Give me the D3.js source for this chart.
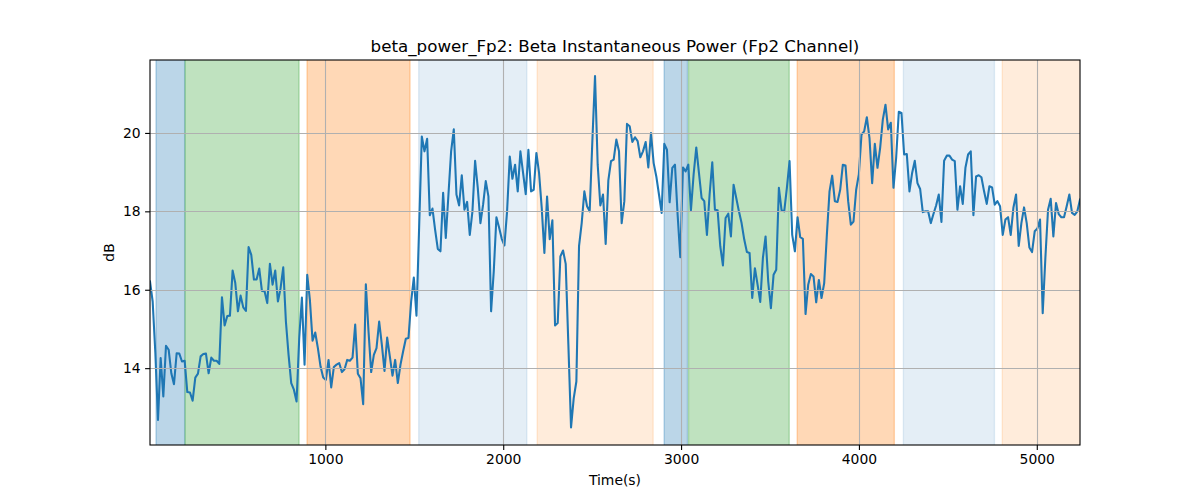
<!DOCTYPE html>
<html>
<head>
<meta charset="utf-8">
<script src="https://cdn.jsdelivr.net/npm/d3@7"></script>
<style>
  html, body { margin: 0; padding: 0; background: #fff; }
  svg { display: block; font-family: "DejaVu Sans", sans-serif; }
</style>
</head>
<body>
<svg id="chart" width="1200" height="500"></svg>
<script>
// ---- data ----
const chartTitle = "beta_power_Fp2: Beta Instantaneous Power (Fp2 Channel)";
const xLabel = "Time(s)";
const yLabel = "dB";
const sampleStart = 14;       // s, first sample
const samplePeriod = 14.983;  // s between samples
const betaPower = [
16.21,15.70,14.4,12.68,14.26,13.28,14.57,14.47,13.87,13.59,
14.38,14.37,14.17,14.19,13.39,13.38,13.17,13.76,13.86,14.30,
14.36,14.37,13.87,14.27,14.19,14.19,14.11,15.81,15.09,15.33,
15.34,16.49,16.17,15.45,15.85,15.55,15.46,17.09,16.89,16.26,
16.26,16.54,15.97,15.96,15.66,16.66,16.13,16.49,15.70,16.04,
16.57,15.19,14.34,13.62,13.45,13.15,14.77,15.80,14.09,16.38,
15.74,14.70,14.91,14.51,14.04,13.76,13.70,14.21,13.51,14.03,
14.09,14.13,13.90,13.97,14.21,14.19,14.27,15.11,13.86,13.74,
13.08,16.14,14.94,13.90,14.34,14.51,15.19,14.60,13.93,14.78,
14.30,13.81,14.21,13.62,14.09,14.43,14.75,14.77,15.70,16.31,
15.34,17.6,19.91,19.53,19.85,17.90,18.07,17.53,17.04,16.98,
18.47,17.32,18.43,19.53,20.09,18.43,18.15,18.92,18.04,18.24,
17.40,18.00,19.29,18.60,17.70,18.17,18.77,18.38,15.45,16.47,
17.85,17.59,17.30,17.13,18.00,19.40,18.83,19.19,18.51,19.53,
18.98,18.44,19.57,18.51,18.55,19.49,18.98,18.09,16.94,18.38,
17.29,17.77,15.09,15.15,16.85,17.00,16.66,14.60,12.49,13.23,
13.66,17.11,17.70,18.51,18.13,18.00,19.79,21.45,19.19,18.15,
18.43,17.17,18.79,19.28,19.32,19.83,19.53,17.70,18.26,20.23,
20.17,19.77,19.89,19.79,19.38,19.53,19.77,19.12,20.00,19.23,
18.89,18.43,17.96,19.72,19.57,18.23,19.11,19.19,17.91,16.83,
19.12,19.02,19.19,18.03,18.94,19.63,18.98,18.34,18.26,17.40,
18.43,19.25,18.04,18.03,17.11,16.62,17.83,17.94,17.36,18.68,
18.34,18.00,17.70,17.28,16.96,16.94,15.79,16.55,16.13,15.69,
16.81,17.36,16.21,15.53,16.38,16.51,18.60,18.03,18.00,18.60,
19.28,17.40,16.98,17.85,17.34,17.30,15.38,16.13,16.40,16.34,
15.68,16.25,15.79,16.17,17.40,18.51,18.91,18.26,18.24,18.55,
19.19,19.17,18.26,17.66,17.74,18.55,18.94,19.96,20.04,20.40,
19.87,18.72,19.72,19.11,19.62,20.34,20.72,20.09,20.26,18.60,
19.36,20.54,20.51,19.45,19.46,18.51,18.98,19.29,18.72,18.57,
17.98,18.00,18.00,17.70,17.93,18.15,18.43,17.73,19.29,19.42,
19.42,19.32,19.28,18.04,18.64,18.19,19.11,19.45,19.53,17.90,
18.89,18.92,18.87,18.51,18.19,18.64,18.61,18.17,18.26,18.13,
17.40,17.79,17.85,17.40,18.09,18.43,17.12,17.70,18.10,17.70,
17.08,16.96,17.49,17.56,17.79,15.40,16.81,18.04,18.32,17.36,
18.21,17.93,17.85,17.85,18.13,18.43,17.96,17.91,18.0,18.3
];

// shaded intervals (seconds)
const spanStart = [48, 211, 897, 1525, 2191, 2905, 3042, 3653, 4250, 4806];
const spanEnd   = [209, 852, 1476, 2133, 2843, 3036, 3608, 4199, 4762, 5400];
const spanColor = ["#1f77b4", "#2ca02c", "#ff7f0e", "#1f77b4", "#ff7f0e",
                   "#1f77b4", "#2ca02c", "#ff7f0e", "#1f77b4", "#ff7f0e"];
const spanAlpha = [0.3, 0.3, 0.3, 0.12, 0.15, 0.3, 0.3, 0.3, 0.12, 0.15];

const xTicks = [1000, 2000, 3000, 4000, 5000];
const yTicks = [14, 16, 18, 20];
const xDomain = [14, 5243];
const yDomain = [12.04, 21.86];

// ---- layout ----
const W = 1200, H = 500;
const m = { left: 150, right: 1080, top: 60, bottom: 445 };

const svg = d3.select("#chart");
const x = d3.scaleLinear().domain(xDomain).range([m.left, m.right]);
const y = d3.scaleLinear().domain(yDomain).range([m.bottom, m.top]);

svg.append("defs").append("clipPath").attr("id", "plotclip")
  .append("rect").attr("x", m.left).attr("y", m.top)
  .attr("width", m.right - m.left).attr("height", m.bottom - m.top);

const plot = svg.append("g").attr("clip-path", "url(#plotclip)");

// spans
const spans = spanStart.map((s, i) => ({ s, e: spanEnd[i], c: spanColor[i], a: spanAlpha[i] }));
plot.selectAll("rect.span").data(spans).enter().append("rect")
  .attr("class", "span")
  .attr("x", d => x(d.s))
  .attr("width", d => x(d.e) - x(d.s))
  .attr("y", m.top - 5)
  .attr("height", m.bottom - m.top + 10)
  .attr("fill", d => d.c).attr("fill-opacity", d => d.a)
  .attr("stroke", d => d.c).attr("stroke-opacity", d => d.a)
  .attr("stroke-width", 1.4);

// grid
const grid = svg.append("g");
grid.selectAll("line.gx").data(xTicks).enter().append("line")
  .attr("x1", d => Math.round(x(d)) + 0.5).attr("x2", d => Math.round(x(d)) + 0.5)
  .attr("y1", m.top).attr("y2", m.bottom)
  .attr("stroke", "#b0b0b0").attr("stroke-width", 1.1);
grid.selectAll("line.gy").data(yTicks).enter().append("line")
  .attr("y1", d => Math.round(y(d)) + 0.5).attr("y2", d => Math.round(y(d)) + 0.5)
  .attr("x1", m.left).attr("x2", m.right)
  .attr("stroke", "#b0b0b0").attr("stroke-width", 1.1);

// line
const pts = betaPower.map((v, i) => ({ t: sampleStart + i * samplePeriod, v }));
const line = d3.line().x(d => x(d.t)).y(d => y(d.v));
plot.append("path").datum(pts)
  .attr("d", line)
  .attr("fill", "none")
  .attr("stroke", "#1f77b4")
  .attr("stroke-width", 2.08)
  .attr("stroke-linejoin", "round")
  .attr("stroke-linecap", "square");

// axes
const xAxis = d3.axisBottom(x).tickValues(xTicks).tickFormat(d3.format("d"))
  .tickSize(4.9).tickPadding(4.5);
const yAxis = d3.axisLeft(y).tickValues(yTicks).tickFormat(d3.format("d"))
  .tickSize(4.9).tickPadding(4.5);

const gx = svg.append("g").attr("transform", `translate(0,${m.bottom})`).call(xAxis);
const gy = svg.append("g").attr("transform", `translate(${m.left},0)`).call(yAxis);
[gx, gy].forEach(g => {
  g.select(".domain").remove();
  g.selectAll(".tick line").attr("stroke", "#000").attr("stroke-width", 1.1);
  g.selectAll(".tick text").attr("fill", "#000")
    .style("font-family", "'DejaVu Sans', sans-serif").style("font-size", "13.9px");
});

// frame
svg.append("rect")
  .attr("x", m.left).attr("y", m.top)
  .attr("width", m.right - m.left).attr("height", m.bottom - m.top)
  .attr("fill", "none").attr("stroke", "#000").attr("stroke-width", 1.1);

// labels
svg.append("text")
  .attr("x", (m.left + m.right) / 2).attr("y", 52)
  .attr("text-anchor", "middle")
  .style("font-size", "16.7px").attr("fill", "#000")
  .text(chartTitle);

svg.append("text")
  .attr("x", (m.left + m.right) / 2).attr("y", 485)
  .attr("text-anchor", "middle")
  .style("font-size", "13.9px").attr("fill", "#000")
  .text(xLabel);

svg.append("text")
  .attr("transform", `translate(114,${(m.top + m.bottom) / 2}) rotate(-90)`)
  .attr("text-anchor", "middle")
  .style("font-size", "13.9px").attr("fill", "#000")
  .text(yLabel);
</script>
</body>
</html>
